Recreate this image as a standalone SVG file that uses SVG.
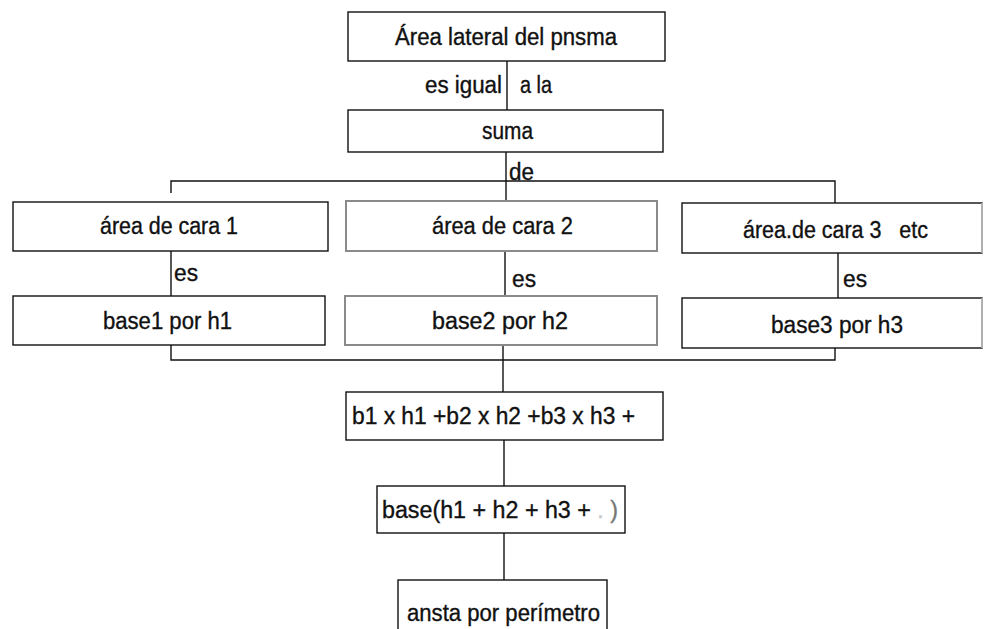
<svg xmlns="http://www.w3.org/2000/svg" width="986" height="629" viewBox="0 0 986 629">
<style>
.box{fill:#fff;stroke:#111;stroke-width:1.4}
.gbox{fill:#fff;stroke:#8a8a8a;stroke-width:2}
.faint{stroke:#d6d6d6;stroke-width:1.4}
.ln{stroke:#111;stroke-width:1.4;fill:none}
.t{font-family:"Liberation Sans",Arial,sans-serif;font-size:23px;fill:#111;stroke:#111;stroke-width:0.35;white-space:pre}
</style>
<rect width="986" height="629" fill="#fff"/>
<g id="connectors">
<line class="ln" x1="507" y1="61" x2="507" y2="110"/>
<line class="ln" x1="506" y1="152" x2="506" y2="202"/>
<polyline class="ln" points="171,193 171,181 835,181 835,203"/>
<line class="ln" x1="171" y1="251" x2="171" y2="296"/>
<line class="ln" x1="505" y1="251" x2="505" y2="296"/>
<line class="ln" x1="838" y1="253" x2="838" y2="298"/>
<polyline class="ln" points="171,345 171,360 835,360 835,348"/>
<line class="ln" x1="503" y1="345" x2="503" y2="392"/>
<line class="ln" x1="504" y1="440" x2="504" y2="486"/>
<line class="ln" x1="504" y1="533" x2="504" y2="580"/>
<text class="t" x="425" y="93" textLength="77" lengthAdjust="spacingAndGlyphs">es igual</text>
<text class="t" x="520" y="93" textLength="32" lengthAdjust="spacingAndGlyphs">a la</text>
<text class="t" x="509" y="180" textLength="25" lengthAdjust="spacingAndGlyphs">de</text>
<text class="t" x="174" y="281" textLength="24" lengthAdjust="spacingAndGlyphs">es</text>
<text class="t" x="512" y="287" textLength="24" lengthAdjust="spacingAndGlyphs">es</text>
<text class="t" x="843" y="287" textLength="24" lengthAdjust="spacingAndGlyphs">es</text>
</g>
<g id="n-area-lateral">
<rect class="box" x="348" y="12" width="317" height="49"/>
<text class="t" x="395" y="45" textLength="222" lengthAdjust="spacingAndGlyphs">Área lateral del pnsma</text>
</g>
<g id="n-suma">
<rect class="box" x="348" y="110" width="315" height="42"/>
<text class="t" x="482" y="139" textLength="51" lengthAdjust="spacingAndGlyphs">suma</text>
</g>
<g id="n-cara1">
<rect class="box" x="13" y="202" width="315" height="49"/>
<text class="t" x="100" y="234" textLength="138" lengthAdjust="spacingAndGlyphs">área de cara 1</text>
</g>
<g id="n-cara2">
<rect class="gbox" x="346" y="201" width="311" height="50"/>
<text class="t" x="432" y="234" textLength="141" lengthAdjust="spacingAndGlyphs">área de cara 2</text>
</g>
<g id="n-cara3">
<rect class="box" x="682" y="203" width="300" height="50"/>
<line class="faint" x1="982" y1="203" x2="982" y2="253"/>
<text class="t" x="743" y="238" textLength="185" lengthAdjust="spacingAndGlyphs">área.de cara 3   etc</text>
</g>
<g id="n-base1">
<rect class="box" x="13" y="296" width="312" height="49"/>
<text class="t" x="103" y="329" textLength="129" lengthAdjust="spacingAndGlyphs">base1 por h1</text>
</g>
<g id="n-base2">
<rect class="gbox" x="345" y="296" width="312" height="49"/>
<text class="t" x="432" y="329" textLength="136" lengthAdjust="spacingAndGlyphs">base2 por h2</text>
</g>
<g id="n-base3">
<rect class="box" x="682" y="298" width="300" height="50"/>
<line class="faint" x1="982" y1="298" x2="982" y2="348"/>
<text class="t" x="771" y="333" textLength="132" lengthAdjust="spacingAndGlyphs">base3 por h3</text>
</g>
<g id="n-suma-productos">
<rect class="box" x="346" y="392" width="317" height="48"/>
<text class="t" x="352" y="424" textLength="283" lengthAdjust="spacingAndGlyphs">b1 x h1 +b2 x h2 +b3 x h3 +</text>
</g>
<g id="n-base-factor">
<rect class="box" x="377" y="486" width="248" height="47"/>
<text class="t" x="382" y="518" textLength="236" lengthAdjust="spacingAndGlyphs">base(h1 + h2 + h3 + <tspan fill="#c8c8c8" stroke="#c8c8c8">.</tspan> <tspan fill="#777" stroke="#777">)</tspan></text>
</g>
<g id="n-arista">
<rect class="box" x="398" y="580" width="209" height="60"/>
<text class="t" x="407" y="621" textLength="193" lengthAdjust="spacingAndGlyphs">ansta por perímetro</text>
</g>
</svg>
